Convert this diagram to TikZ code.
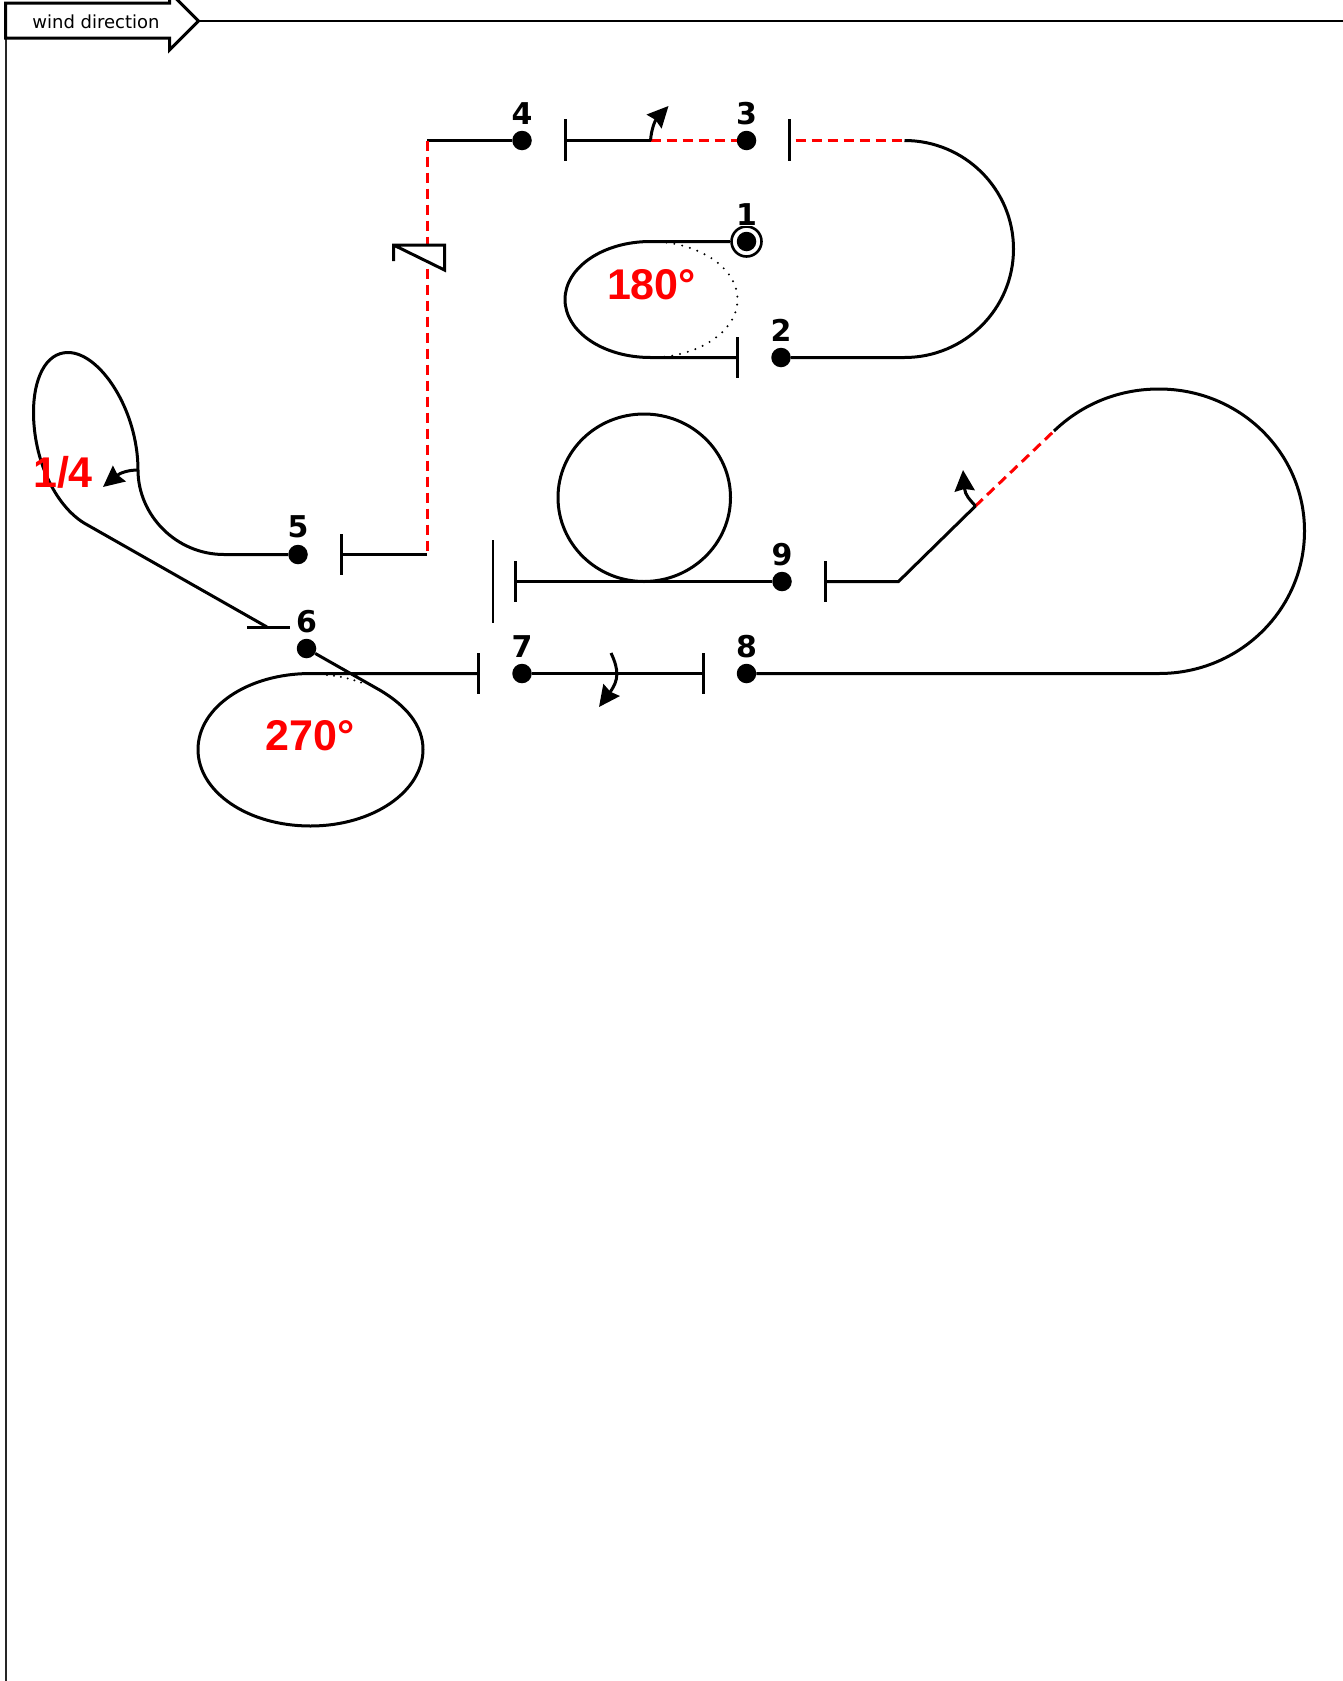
\documentclass[tikz,border=0pt]{standalone}
\usepackage{fontspec}
\setmainfont{DejaVu Sans}
\newfontfamily\redfont{Liberation Sans}[Scale=1]
\usetikzlibrary{arrows.meta}
\tikzset{
  wire/.style={draw=black,line width=3pt},
  redwire/.style={draw=red,line width=3pt,dash pattern=on 10pt off 6pt},
  barline/.style={draw=black,line width=3pt},
  dotline/.style={draw=black,line width=2.2pt,line cap=round,dash pattern=on 0pt off 8pt},
  buoy/.style={circle,fill=black,inner sep=0pt,minimum size=19.5pt},
  numlabel/.style={font=\fontsize{30}{30}\selectfont\bfseries,inner sep=0pt},
  redlabel/.style={font=\redfont\fontsize{43}{43}\selectfont\bfseries,text=red,inner sep=0pt},
  turn/.style={draw=black,line width=3pt,-{Stealth[length=21pt,width=20pt,inset=2pt]}}
}
\begin{document}
\begin{tikzpicture}[x=1pt,y=-1pt]
\useasboundingbox (0,0) rectangle (1343,1681);
% frame
\coordinate (frameTop) at (5.5,38);
\coordinate (frameBottom) at (5.5,1681);
\draw[black!85,line width=2pt] (frameTop) -- (frameBottom);
\coordinate (tip) at (198.5,21);
\coordinate (farRight) at (1343,21);
\draw[black,line width=2pt] (tip) -- (farRight);
\draw[black,line width=3pt,fill=white] (5.5,3) -- (169.5,3) -- (169.5,-8) -- (tip) -- (169.5,50) -- (169.5,38) -- (5.5,38) -- cycle;
\node[inner sep=0pt,font=\fontsize{18}{18}\selectfont] (windlabel) at (96,21.5) {wind direction};
% buoys
\node[buoy] (n1) at (746.5,241.5) {};
\node[buoy] (n2) at (781,357.5) {};
\node[buoy] (n3) at (746.5,140.5) {};
\node[buoy] (n4) at (522,140.5) {};
\node[buoy] (n5) at (298,554.5) {};
\node[buoy] (n6) at (306.5,648.5) {};
\node[buoy] (n7) at (522,673.5) {};
\node[buoy] (n8) at (746.5,673.5) {};
\node[buoy] (n9) at (782,581.5) {};
\node[draw=black,line width=2.6pt,circle,inner sep=0pt,minimum size=30pt] (ring1) at (746.5,241.5) {};
\node[numlabel,fill=white,inner ysep=1pt] (l1) at (746.5,214.5) {1};
\node[numlabel] (l2) at (781,330) {2};
\node[numlabel] (l3) at (746.5,113.5) {3};
\node[numlabel] (l4) at (522,113.5) {4};
\node[numlabel] (l5) at (298,527) {5};
\node[numlabel] (l6) at (306.5,621.5) {6};
\node[numlabel] (l7) at (522,647) {7};
\node[numlabel] (l8) at (746.5,647) {8};
\node[numlabel] (l9) at (782,554.5) {9};
% leg 1-2
\coordinate (a1) at (650.5,241.5);
\coordinate (a2) at (650.5,357.5);
\coordinate (b2) at (737.5,357.5);
\draw[wire] (ring1.west |- n1) -- (a1) .. controls (603,241.5) and (565,267.5) .. (565,299.5) .. controls (565,331.5) and (603,357.5) .. (a2) -- (b2);
\draw[barline] (737.5,337) -- (737.5,378);
\draw[dotline] (a1) .. controls (698,241.5) and (737.5,267.5) .. (737.5,299.5) .. controls (737.5,331.5) and (698,357.5) .. (a2);
\node[redlabel] (t180) at (651.5,284.5) {180°};
% leg 2-3
\coordinate (c3) at (904.5,140.5);
\coordinate (c2) at (904.5,357.5);
\draw[wire] (n2) -- (c2) .. controls (964.5,357.5) and (1013.5,309) .. (1013.5,249) .. controls (1013.5,189) and (964.5,140.5) .. (c3);
\draw[redwire,dash phase=10pt] (789.5,140.5) -- (c3);
\draw[barline] (789.5,119) -- (789.5,161);
% leg 3-4
\coordinate (d4) at (650.5,140.5);
\draw[redwire] (d4) -- (n3);
\draw[wire] (d4) -- (565.5,140.5);
\draw[barline] (565.5,119) -- (565.5,161);
\draw[turn] (d4) .. controls (651.5,128) and (655.5,120) .. (668.5,106);
% leg 4-5
\coordinate (e4) at (427,140.5);
\coordinate (e5) at (427,554.5);
\draw[wire] (n4) -- (e4);
\draw[redwire] (e4) -- (e5);
\draw[wire] (e5) -- (341,554.5);
\draw[barline] (341,534) -- (341,575);
\draw[wire,fill=white] (393.5,261) -- (393.5,245) -- (444.5,245) -- (444.5,270) -- (393.5,245);
% leg 5-6
\coordinate (f5) at (224,554.5);
\coordinate (f6) at (138,470);
\coordinate (f7) at (84,523);
\coordinate (f8) at (267,627);
\draw[wire] (n5) -- (f5) .. controls (176,554.5) and (138,515) .. (f6) .. controls (138,410) and (100,352.5) .. (68,352.5) .. controls (45,352.5) and (33.5,380) .. (33.5,412) .. controls (33.5,460) and (55,505) .. (f7) -- (f8);
\draw[wire] (247,627) -- (290,627);
\node[redlabel] (t14) at (63,472) {1/4};
\draw[turn] (f6) .. controls (128,470) and (120,473) .. (103,487);
% leg 6-7
\coordinate (g1) at (310.5,673.5);
\coordinate (g2) at (380.5,690.5);
\draw[wire] (n6) -- (g2) .. controls (405.5,705.5) and (423,725) .. (423,749.5) .. controls (423,791.7) and (372.4,826) .. (310.5,826) .. controls (247.6,826) and (198,791.7) .. (198,749.5) .. controls (198,707.3) and (247.6,673.5) .. (g1) -- (478.5,673.5);
\draw[barline] (478.5,653) -- (478.5,694);
\draw[dotline,dash pattern=on 0pt off 7pt] (327,675) .. controls (340,676) and (352,679) .. (365,684);
\node[redlabel] (t270) at (310,735.5) {270°};
% leg 7-8
\draw[wire] (n7) -- (703,673.5);
\draw[barline] (703,653) -- (703,694);
\coordinate (h1) at (611,653);
\coordinate (h2) at (599,707);
\draw[turn] (h1) .. controls (619,670) and (619,680) .. (h2);
% leg 8-9
\coordinate (i1) at (1159,673.5);
\coordinate (i2) at (1054,431);
\coordinate (i3) at (975.5,506);
\coordinate (i4) at (898.5,581.5);
\draw[wire] (n8) -- (i1) .. controls (1239.6,673.5) and (1304.5,609.5) .. (1304.5,531) .. controls (1304.5,452.5) and (1239.6,389) .. (1159,389) .. controls (1116,389) and (1080,406) .. (i2);
\draw[redwire] (i3) -- (i2);
\draw[wire] (i3) -- (i4) -- (825,581.5);
\draw[barline] (825,561) -- (825,602);
\coordinate (i5) at (963,470);
\draw[turn] (i3) .. controls (970,500) and (965,495) .. (i5);
% finish
\draw[wire] (n9) -- (515,581.5);
\draw[barline] (515,561) -- (515,602);
\draw[barline,line width=2.4pt] (493,540) -- (493,623);
\draw[wire] (644,581.5) .. controls (596.2,581.5) and (558,543.6) .. (558,497.5) .. controls (558,451.4) and (596.2,414) .. (644,414) .. controls (691.8,414) and (730.5,451.4) .. (730.5,497.5) .. controls (730.5,543.6) and (691.8,581.5) .. (644,581.5);
\end{tikzpicture}
\end{document}
